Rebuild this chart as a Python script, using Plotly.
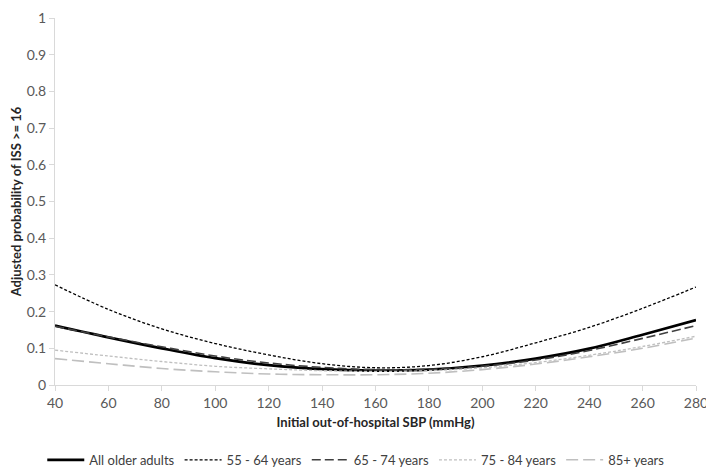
import plotly.graph_objects as go

sbp = [40, 60, 80, 100, 120, 140, 160, 180, 200, 220, 240, 260, 280]
all_older = [0.162, 0.130, 0.100, 0.073, 0.054, 0.043, 0.039, 0.042, 0.053, 0.072, 0.099, 0.137, 0.177]
age_55_64 = [0.273, 0.206, 0.153, 0.113, 0.082, 0.058, 0.047, 0.053, 0.077, 0.115, 0.157, 0.209, 0.267]
age_65_74 = [0.160, 0.131, 0.104, 0.079, 0.060, 0.048, 0.042, 0.043, 0.051, 0.068, 0.094, 0.127, 0.162]
age_75_84 = [0.095, 0.079, 0.064, 0.051, 0.044, 0.039, 0.037, 0.039, 0.047, 0.061, 0.081, 0.105, 0.133]
age_85_plus = [0.072, 0.058, 0.045, 0.036, 0.030, 0.028, 0.028, 0.032, 0.042, 0.057, 0.077, 0.100, 0.128]

x_ticks = [40, 60, 80, 100, 120, 140, 160, 180, 200, 220, 240, 260, 280]
y_ticks = [0, 0.1, 0.2, 0.3, 0.4, 0.5, 0.6, 0.7, 0.8, 0.9, 1]
y_labels = ["0", "0.1", "0.2", "0.3", "0.4", "0.5", "0.6", "0.7", "0.8", "0.9", "1"]

series = [
    ("All older adults", all_older, "#000000", 2.75, "solid"),
    ("55 - 64 years", age_55_64, "#000000", 1.3, "3px,2px"),
    ("65 - 74 years", age_65_74, "#404040", 1.6, "9px,4px"),
    ("75 - 84 years", age_75_84, "#bfbfbf", 1.3, "3px,2px"),
    ("85+ years", age_85_plus, "#bfbfbf", 1.6, "12px,5px"),
]

fig = go.Figure()
for name, vals, color, width, dash in series:
    fig.add_trace(go.Scatter(
        x=sbp, y=vals, mode="lines", name=name,
        line=dict(color=color, width=width, dash=dash, shape="spline"),
    ))

font_family = "Lato, 'Open Sans', sans-serif"
# page body has an 8px default margin; the figure starts at (8, 8) in the window
fig.update_layout(
    width=706, height=467,
    margin=dict(l=47, r=18, t=10, b=90, autoexpand=False),
    paper_bgcolor="white", plot_bgcolor="white",
    font=dict(family=font_family, size=14, color="#595959"),
    showlegend=True,
    legend=dict(orientation="h", x=0.47, xanchor="center", y=-0.204, yanchor="middle",
                font=dict(size=13, color="#404040"), traceorder="normal",
                itemwidth=37),
    xaxis=dict(
        range=[40, 280], tickvals=x_ticks, ticks="outside", ticklen=5,
        tickcolor="#d9d9d9", showline=True, linecolor="#d9d9d9", linewidth=1,
        showgrid=False, zeroline=False, automargin=False, ticklabeloverflow="allow",
        tickfont=dict(size=14, color="#595959"),
        title=dict(text="<b>Initial out-of-hospital SBP (mmHg)</b>",
                   font=dict(size=13, color="#262626"), standoff=8),
    ),
    yaxis=dict(
        range=[0, 1], tickvals=y_ticks, ticktext=y_labels, ticks="outside", ticklen=5,
        tickcolor="#d9d9d9", showline=True, linecolor="#d9d9d9", linewidth=1,
        showgrid=False, zeroline=False, automargin=False, ticklabeloverflow="allow",
        tickfont=dict(size=14, color="#595959"),
        title=dict(text="<b>Adjusted probability of ISS >= 16</b>",
                   font=dict(size=13, color="#262626"), standoff=3),
    ),
)

fig.write_html("out.html")
